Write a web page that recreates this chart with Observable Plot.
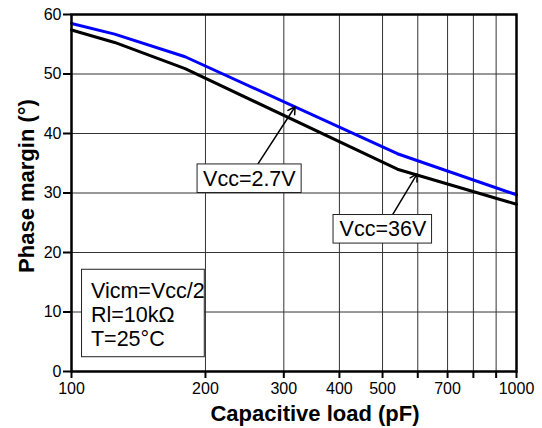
<!DOCTYPE html>
<html>
<head>
<meta charset="utf-8">
<script src="https://cdn.jsdelivr.net/npm/d3@7"></script>
<script src="https://cdn.jsdelivr.net/npm/@observablehq/plot@0.6"></script>
<style>
  html, body { margin: 0; padding: 0; background: white; }
</style>
</head>
<body>
<div id="chart"></div>
<script>
// Data
const capLoad = [100, 125, 180, 540, 1000];           // pF
const pmVcc27 = [58.5, 56.7, 52.9, 36.6, 29.7];        // deg, Vcc=2.7V (blue)
const pmVcc36 = [57.4, 55.3, 50.9, 34.0, 28.1];        // deg, Vcc=36V (black)

const xTicks = [100, 200, 300, 400, 500, 600, 700, 800, 900, 1000];
const xTickLabels = [100, 200, 300, 400, 500, 700, 1000];
const yTicks = [0, 10, 20, 30, 40, 50, 60];
const xGrid = [200, 300, 400, 500, 600, 700, 800, 900];
const yGrid = [10, 20, 30, 40, 50];

const seriesNames = ["Vcc=2.7V", "Vcc=36V"];
const conditionsText = "Vicm=Vcc/2\nRl=10kΩ\nT=25°C";
const xTitle = "Capacitive load (pF)";
const yTitle = "Phase margin (°)";

// Annotation anchors (data units)
const labelBoxes = [
  {text: seriesNames[0], x1: 192, x2: 329, y1: 30.0, y2: 34.8, tx: 251, ty: 32.4},
  {text: seriesNames[1], x1: 388, x2: 646, y1: 21.5, y2: 26.3, tx: 501, ty: 23.9}
];
const pointers = [
  {x1: 262, y1: 34.8, x2: 318, y2: 44.5},
  {x1: 526, y1: 26.3, x2: 598, y2: 33.2}
];
const condBox = [{x1: 105.6, x2: 199.3, y1: 2.4, y2: 17.1, tx: 110.6, ty: 9.6}];

const rows27 = capLoad.map((c, i) => ({c, pm: pmVcc27[i]}));
const rows36 = capLoad.map((c, i) => ({c, pm: pmVcc36[i]}));

const chart = Plot.plot({
  width: 542,
  height: 428,
  marginLeft: 71,
  marginRight: 26,
  marginTop: 14,
  marginBottom: 57,
  style: {fontFamily: "'Liberation Sans', Arial, sans-serif", fontSize: "16px", background: "white", color: "black"},
  x: {type: "log", domain: [100, 1000]},
  y: {domain: [0, 60]},
  marks: [
    Plot.ruleX(xGrid, {stroke: "#333", strokeWidth: 1}),
    Plot.ruleY(yGrid, {stroke: "#333", strokeWidth: 1}),
    Plot.line(rows36, {x: "c", y: "pm", stroke: "black", strokeWidth: 3}),
    Plot.line(rows27, {x: "c", y: "pm", stroke: "#0000ff", strokeWidth: 3}),
    Plot.arrow(pointers, {x1: "x1", y1: "y1", x2: "x2", y2: "y2", stroke: "black", strokeWidth: 1.5, headLength: 8}),
    Plot.rect(labelBoxes, {x1: "x1", x2: "x2", y1: "y1", y2: "y2", fill: "white", stroke: "#222", strokeWidth: 1}),
    Plot.text(labelBoxes, {x: "tx", y: "ty", text: "text", fontSize: 21.5, fill: "black"}),
    Plot.rect(condBox, {x1: "x1", x2: "x2", y1: "y1", y2: "y2", fill: "white", stroke: "#222", strokeWidth: 1}),
    Plot.text(condBox, {x: "tx", y: "ty", text: () => conditionsText, textAnchor: "start", lineAnchor: "middle", lineHeight: 1.1, fontSize: 21.5, fill: "black"}),
    Plot.frame({stroke: "black", strokeWidth: 2.5}),
    Plot.axisX({ticks: xTicks, tickSize: 7, tickPadding: 4, strokeWidth: 2, label: null,
      tickFormat: d => xTickLabels.includes(Math.round(d)) ? String(Math.round(d)) : ""}),
    Plot.axisY({ticks: yTicks, tickSize: 8, tickPadding: 2, strokeWidth: 2, label: null, tickFormat: d => String(d)}),
    Plot.text([xTitle], {frameAnchor: "bottom", text: d => d, dx: 21, dy: 49, textAnchor: "middle", lineAnchor: "bottom", fontSize: 22, fontWeight: "bold", fill: "black"}),
    Plot.text([yTitle], {frameAnchor: "left", text: d => d, rotate: -90, dx: -37.5, dy: -7, textAnchor: "middle", lineAnchor: "bottom", fontSize: 22, fontWeight: "bold", fill: "black"})
  ]
});
document.getElementById("chart").appendChild(chart);
</script>
</body>
</html>
